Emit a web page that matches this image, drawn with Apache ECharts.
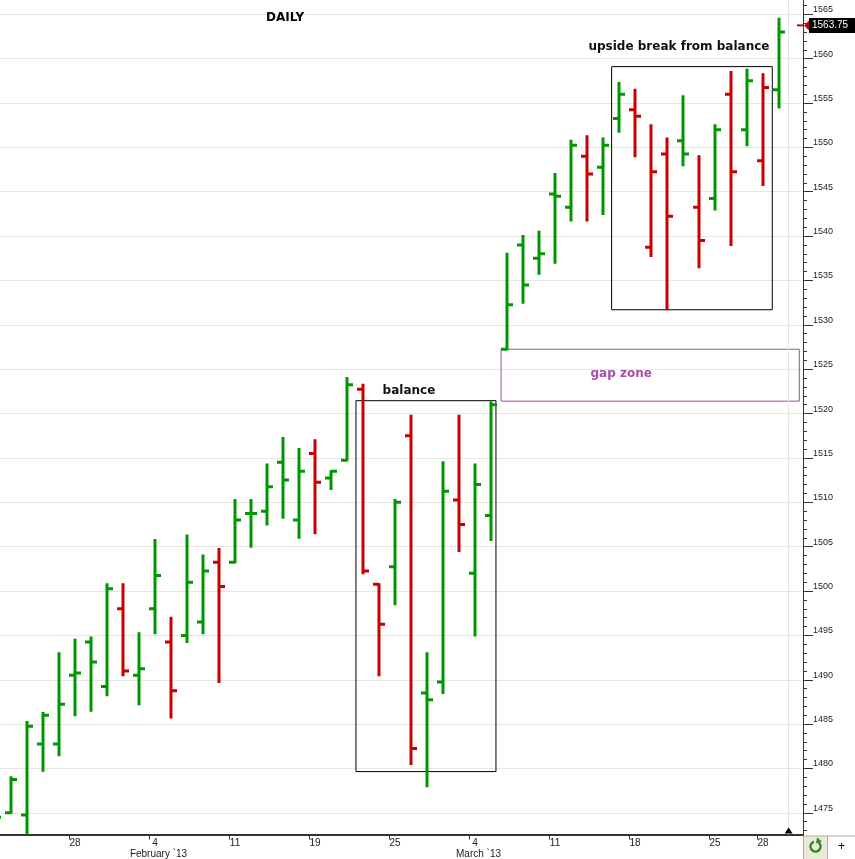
<!DOCTYPE html>
<html>
<head>
<meta charset="utf-8">
<title>DAILY</title>
<script src="https://cdn.jsdelivr.net/npm/echarts@6/dist/echarts.min.js"></script>
<style>
  html, body { margin: 0; padding: 0; background: #fff; }
  #chart { width: 855px; height: 859px; }
</style>
</head>
<body>
<div id="chart"></div>
<script>
// daily OHLC bars, one per slot (slot 0 is cut off at the left edge)
var opens  = [1473.5, 1475.0, 1474.75, 1482.75, 1482.75, 1490.5, 1494.25, 1489.25, 1498.0, 1490.5,
              1498.0, 1494.25, 1495.0, 1496.5, 1503.25, 1503.25, 1508.75, 1509.0, 1514.5, 1508.0,
              1515.5, 1512.75, 1514.75, 1522.75, 1500.75, 1502.75, 1517.5, 1488.5, 1489.75, 1510.25,
              1502.0, 1508.5, 1527.25, 1539.0, 1537.5, 1544.75, 1543.25, 1549.0, 1547.75, 1553.25,
              1554.25, 1538.75, 1549.25, 1550.75, 1543.25, 1544.25, 1556.0, 1552.0, 1548.5, 1556.5];
var highs  = [1476.0, 1479.0, 1485.25, 1486.25, 1493.0, 1494.5, 1494.75, 1500.75, 1500.75, 1495.25,
              1505.75, 1497.0, 1506.25, 1504.0, 1504.75, 1510.25, 1510.25, 1514.25, 1517.25, 1516.0,
              1517.0, 1513.5, 1524.0, 1523.25, 1500.75, 1510.25, 1519.75, 1493.0, 1514.5, 1519.75,
              1514.25, 1521.25, 1538.0, 1540.0, 1540.5, 1547.0, 1550.75, 1551.25, 1551.0, 1557.25,
              1556.5, 1552.5, 1551.0, 1555.75, 1549.0, 1552.5, 1558.5, 1558.75, 1558.25, 1564.5];
var lows   = [1471.0, 1475.0, 1471.0, 1479.75, 1481.5, 1486.0, 1486.5, 1488.25, 1490.5, 1487.25,
              1495.25, 1485.75, 1494.25, 1495.25, 1489.75, 1503.25, 1505.0, 1507.5, 1508.25, 1506.0,
              1506.5, 1511.5, 1514.75, 1502.0, 1490.5, 1498.5, 1480.5, 1478.0, 1488.5, 1504.5,
              1495.0, 1505.75, 1527.25, 1532.5, 1535.75, 1537.0, 1541.75, 1541.75, 1542.5, 1551.75,
              1549.0, 1537.75, 1531.75, 1548.0, 1536.5, 1543.0, 1539.0, 1550.25, 1545.75, 1554.5];
var closes = [1474.5, 1478.75, 1484.75, 1486.0, 1487.25, 1490.75, 1492.0, 1500.25, 1491.0, 1491.25,
              1501.75, 1488.75, 1501.0, 1502.25, 1500.5, 1508.0, 1508.75, 1511.75, 1512.5, 1513.5,
              1512.25, 1513.5, 1523.25, 1502.25, 1496.25, 1510.0, 1482.25, 1487.75, 1511.25, 1507.5,
              1512.0, 1521.0, 1532.25, 1534.5, 1538.0, 1544.5, 1550.25, 1547.0, 1550.25, 1556.0,
              1553.5, 1547.25, 1542.25, 1549.25, 1539.5, 1552.0, 1547.25, 1557.5, 1556.75, 1563.0];
var lastPrice = 1563.75;

// x axis labels (slot index -> text)
var xLabelIdx  = [5, 10, 15, 20, 25, 30, 35, 40, 45, 48];
var xLabelText = ['28', '4', '11', '19', '25', '4', '11', '18', '25', '28'];
var monthIdx   = [10, 30];
var monthText  = ['February `13', 'March `13'];

// y axis labels
var yLabels = [1475, 1480, 1485, 1490, 1495, 1500, 1505, 1510, 1515, 1520,
               1525, 1530, 1535, 1540, 1545, 1550, 1555, 1560, 1565];

// annotation boxes, in slot / price units
var boxNames = ['balance', 'gap zone', 'upside break from balance'];
var boxX = [[22.56, 31.31], [31.63, 50.27], [38.54, 48.58]];
var boxY = [[1521.45, 1479.65], [1527.25, 1521.4], [1559.1, 1531.7]];
var nowSlot = 49.6;

var UP = '#009600';
var DOWN = '#c80000';
var X_MIN = 0.3125;
var X_MAX = 50.5;
var Y_MIN = 1472.56;
var Y_MAX = 1566.61;

var chart = echarts.init(document.getElementById('chart'));

var barData = opens.map(function (o, i) {
  var up = (i === 0 || closes[i] >= closes[i - 1]) ? 1 : 0;
  return [i, o, highs[i], lows[i], closes[i], up];
});

// minor ticks every point
var minorTicks = [];
for (var v = Math.ceil(Y_MIN); v <= Y_MAX; v++) {
  minorTicks.push(v);
}

function renderBar(params, api) {
  var i = api.value(0);
  var o = api.coord([i, api.value(1)]);
  var h = api.coord([i, api.value(2)]);
  var l = api.coord([i, api.value(3)]);
  var c = api.coord([i, api.value(4)]);
  var color = api.value(5) ? UP : DOWN;
  var st = { stroke: color, lineWidth: 3 };
  return {
    type: 'group',
    children: [
      { type: 'line', shape: { x1: h[0], y1: h[1] - 1, x2: l[0], y2: l[1] + 1 }, style: st },
      { type: 'line', shape: { x1: o[0] - 6, y1: o[1], x2: o[0], y2: o[1] }, style: st },
      { type: 'line', shape: { x1: c[0], y1: c[1], x2: c[0] + 6, y2: c[1] }, style: st }
    ]
  };
}

var boxColor = ['#000', '#9c4f9c', '#000'];
var boxLabel = [
  { position: 'top', offset: [-17, 2], color: '#111' },
  { position: 'inside', offset: [-29, -1], color: '#a84ca8' },
  { position: 'top', offset: [-13, -8], color: '#111' }
];

var areas = boxNames.map(function (name, k) {
  return [{
    name: name,
    coord: [boxX[k][0], boxY[k][0]],
    itemStyle: { color: 'rgba(0,0,0,0)', borderColor: boxColor[k], borderWidth: 1 },
    label: {
      show: true,
      position: boxLabel[k].position,
      offset: boxLabel[k].offset,
      color: boxLabel[k].color,
      fontFamily: 'DejaVu Sans',
      fontWeight: 'bold',
      fontSize: 12
    }
  }, {
    coord: [boxX[k][1], boxY[k][1]]
  }];
});

var option = {
  backgroundColor: '#fff',
  animation: false,
  title: {
    text: 'DAILY',
    left: 261,
    top: 7,
    textStyle: { fontFamily: 'DejaVu Sans', fontWeight: 'bold', fontSize: 12, color: '#000' }
  },
  grid: { left: 0, right: 52, top: 0, bottom: 24 },
  xAxis: {
    type: 'value',
    min: X_MIN,
    max: X_MAX,
    splitLine: { show: false },
    axisLine: { show: true, onZero: false, lineStyle: { color: '#333', width: 2 } },
    axisTick: {
      show: true,
      length: 5,
      customValues: xLabelIdx.map(function (i) { return i - 0.375; }),
      lineStyle: { color: '#333' }
    },
    axisLabel: {
      customValues: xLabelIdx,
      margin: 3,
      color: '#222',
      fontFamily: 'Liberation Sans',
      fontSize: 10,
      formatter: function (val) {
        var i = xLabelIdx.indexOf(Math.round(val));
        var m = monthIdx.indexOf(Math.round(val));
        var s = '{d|' + (i >= 0 ? xLabelText[i] : '') + '}';
        if (m >= 0) {
          s += '\n{m|' + monthText[m] + '}';
        }
        return s;
      },
      rich: {
        d: { fontFamily: 'Liberation Sans', fontSize: 10, lineHeight: 11, color: '#222' },
        m: { fontFamily: 'Liberation Sans', fontSize: 10, lineHeight: 11, color: '#222', padding: [0, 0, 0, 7] }
      }
    }
  },
  yAxis: [{
    type: 'value',
    position: 'right',
    min: Y_MIN,
    max: Y_MAX,
    axisLine: { show: true, onZero: false, lineStyle: { color: '#333', width: 1 } },
    axisTick: { show: true, length: 10, customValues: yLabels, lineStyle: { color: '#333' } },
    axisLabel: {
      customValues: yLabels,
      margin: 10,
      verticalAlign: 'bottom',
      color: '#222',
      fontFamily: 'Liberation Sans',
      fontSize: 9,
      formatter: function (val) { return String(val); }
    },
    splitLine: { show: true, lineStyle: { color: '#e6e6e6', width: 1 } }
  }, {
    type: 'value',
    position: 'right',
    min: Y_MIN,
    max: Y_MAX,
    axisLine: { show: false, onZero: false },
    axisTick: { show: true, length: 4, customValues: minorTicks, lineStyle: { color: '#333' } },
    axisLabel: { show: false },
    splitLine: { show: false }
  }],
  series: [{
    type: 'custom',
    name: 'bars',
    clip: true,
    renderItem: renderBar,
    encode: { x: 0, y: [1, 2, 3, 4] },
    data: barData,
    markArea: { silent: true, data: areas },
    markLine: {
      silent: true,
      symbol: 'none',
      label: { show: false },
      lineStyle: { color: '#e4e4e4', type: 'solid', width: 1 },
      data: [{ xAxis: nowSlot }]
    },
    markPoint: {
      silent: true,
      symbol: 'triangle',
      symbolSize: [8, 6],
      symbolOffset: [0, -4],
      itemStyle: { color: '#000' },
      label: { show: false },
      data: [{ coord: [nowSlot, Y_MIN] }]
    }
  }]
};

chart.setOption(option);

// last price tag on the right axis and the two small buttons below it
var py = chart.convertToPixel({ yAxisIndex: 0 }, lastPrice);
var ax = chart.convertToPixel({ xAxisIndex: 0 }, X_MAX);
var by = chart.convertToPixel({ yAxisIndex: 0 }, Y_MIN);

chart.setOption({
  graphic: [
    { type: 'rect', shape: { x: ax - 6, y: py - 1, width: 6, height: 2 }, style: { fill: DOWN } },
    { type: 'polygon', shape: { points: [[ax + 1, py], [ax + 7, py - 6], [ax + 7, py + 6]] }, style: { fill: DOWN } },
    { type: 'rect', shape: { x: ax + 6, y: py - 7.5, width: 60, height: 15 }, style: { fill: '#000' } },
    {
      type: 'text', x: ax + 9, y: py,
      style: { text: lastPrice.toFixed(2), fill: '#fff', fontSize: 10, fontFamily: 'Liberation Sans', verticalAlign: 'middle' }
    },
    { type: 'rect', shape: { x: ax + 0.5, y: by + 1.5, width: 24, height: 24 }, style: { fill: '#ece9d8', stroke: '#b5ad95' } },
    { type: 'rect', shape: { x: ax + 24.5, y: by + 1.5, width: 28, height: 24 }, style: { fill: '#fff', stroke: '#b5ad95' } },
    {
      type: 'arc', shape: { cx: ax + 12.5, cy: by + 12, r: 5, startAngle: -Math.PI * 0.3, endAngle: Math.PI * 1.4 },
      style: { stroke: '#2e8b2e', lineWidth: 2.5, fill: null }
    },
    { type: 'polygon', shape: { points: [[ax + 14, by + 3], [ax + 19, by + 7], [ax + 13, by + 9]] }, style: { fill: '#2e8b2e' } },
    {
      type: 'text', x: ax + 38.5, y: by + 12,
      style: { text: '+', fill: '#000', fontSize: 12, fontFamily: 'Liberation Sans', align: 'center', verticalAlign: 'middle' }
    }
  ]
});
</script>
</body>
</html>
